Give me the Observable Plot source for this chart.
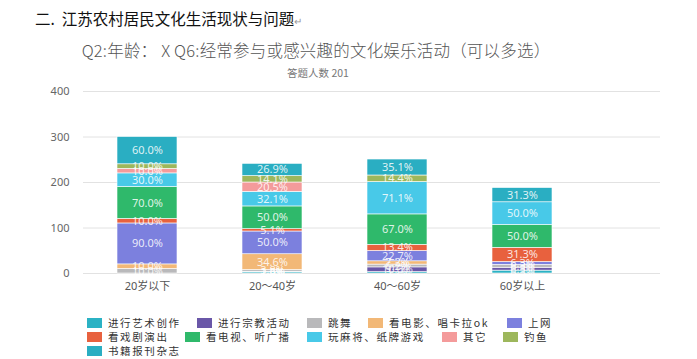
<!DOCTYPE html>
<html>
<head>
<meta charset="utf-8">
<script src="https://cdn.jsdelivr.net/npm/d3@7"></script>
<script src="https://cdn.jsdelivr.net/npm/@observablehq/plot@0.6"></script>
<style>
  html, body { margin: 0; padding: 0; background: #fff; }
  #wrap { position: relative; width: 697px; height: 359px; overflow: hidden; font-family: "Noto Sans CJK SC", "Noto Sans", sans-serif; }
  #wrap svg { position: absolute; left: 0; top: 0; }
  .heading { position: absolute; left: 35px; top: 7px; font-size: 15.5px; color: #111; white-space: nowrap; }
  .heading .ret { font-size: 10px; color: #999; }
  .title { position: absolute; left: 0; width: 632px; top: 38px; text-align: center; font-size: 16.5px; color: #555; white-space: nowrap; font-weight: 300; letter-spacing: 0.2px; }
  .subtitle { position: absolute; left: 0; width: 636px; top: 65px; text-align: center; font-size: 10.5px; color: #777; white-space: nowrap; }
  .leg { position: absolute; display: flex; align-items: center; font-size: 10.5px; letter-spacing: 1.6px; color: #333; white-space: nowrap; }
  .leg .sw { width: 15px; height: 10px; margin-right: 6px; }
</style>
</head>
<body>
<div id="wrap"></div>
<script>
const categories = ["20岁以下", "20～40岁", "40～60岁", "60岁以上"];
const seriesNames = ["进行艺术创作", "进行宗教活动", "跳舞", "看电影、唱卡拉ok", "上网", "看戏剧演出", "看电视、听广播", "玩麻将、纸牌游戏", "其它", "钓鱼", "书籍报刊杂志"];
const colors = ["#2bb2c4", "#6a57a8", "#b9b9bb", "#f2b877", "#7c80de", "#e8613e", "#2fb96b", "#48c9e8", "#f49b9b", "#9db75c", "#2aaec2"];
const v_art      = [0,    2.6,  3.1,  6.3];
const v_religion = [0,    1.3,  10.3, 6.3];
const v_dance    = [10.0, 3.8,  6.2,  6.3];
const v_movie    = [10.0, 34.6, 7.2,  0];
const v_net      = [90.0, 50.0, 22.7, 6.3];
const v_opera    = [10.0, 5.1,  13.4, 31.3];
const v_tv       = [70.0, 50.0, 67.0, 50.0];
const v_mahjong  = [30.0, 32.1, 71.1, 50.0];
const v_other    = [10.0, 20.5, 0,    0];
const v_fishing  = [10.0, 14.1, 14.4, 0];
const v_books    = [60.0, 26.9, 35.1, 31.3];
const yTicks = [0, 100, 200, 300, 400];

const seriesValues = [v_art, v_religion, v_dance, v_movie, v_net, v_opera, v_tv, v_mahjong, v_other, v_fishing, v_books];
const data = [];
seriesNames.forEach((s, i) => categories.forEach((c, j) => data.push({series: s, cat: c, value: seriesValues[i][j]})));
const labeled = data.filter(d => d.value > 0);

const W = 697, H = 359;
const plot = Plot.plot({
  width: W, height: H,
  marginTop: 91, marginBottom: 86, marginLeft: 83, marginRight: 37,
  style: {fontFamily: "'Noto Sans', 'Noto Sans CJK SC', sans-serif", background: "transparent"},
  x: {domain: categories, range: [83, 586], paddingInner: 0.52, paddingOuter: 0.26, label: null},
  y: {domain: [0, 400], label: null},
  color: {domain: seriesNames, range: colors},
  marks: [
    Plot.ruleY(yTicks, {stroke: "#e2e2e2", strokeWidth: 1}),
    Plot.axisY({ticks: yTicks, tickSize: 0, tickPadding: 14, fontSize: 11, fill: "#666", label: null}),
    Plot.axisX({tickSize: 0, tickPadding: 9, fontSize: 11, fill: "#555", label: null}),
    Plot.barY(data, {x: "cat", y: "value", z: "series", fill: "series", stroke: "#fff", strokeWidth: 0.6, order: null}),
    Plot.text(labeled, Plot.stackY({x: "cat", y: "value", z: "series", order: null, text: d => d3.format(".1f")(d.value) + "%", fill: "#fff", fillOpacity: 0.85, fontSize: 11}))
  ]
});
const wrap = document.getElementById("wrap");
wrap.appendChild(plot);

const heading = document.createElement("div");
heading.className = "heading";
heading.innerHTML = "二.&nbsp;&nbsp;江苏农村居民文化生活现状与问题<span class='ret'>↵</span>";
wrap.appendChild(heading);
const title = document.createElement("div");
title.className = "title";
title.textContent = "Q2:年龄：  X Q6:经常参与或感兴趣的文化娱乐活动（可以多选）";
wrap.appendChild(title);
const sub = document.createElement("div");
sub.className = "subtitle";
sub.textContent = "答题人数 201";
wrap.appendChild(sub);

// legend layout (x offsets, rows)
const legendLayout = [
  [87, 0], [197, 0], [307, 0], [368, 0], [507, 0],
  [87, 1], [185, 1], [307, 1], [442, 1], [503, 1],
  [87, 2]
];
const rowTop = [315, 329, 343];
seriesNames.forEach((s, i) => {
  const it = document.createElement("div");
  it.className = "leg";
  it.style.left = legendLayout[i][0] + "px";
  it.style.top = rowTop[legendLayout[i][1]] + "px";
  it.innerHTML = `<span class="sw" style="background:${colors[i]}"></span><span>${s}</span>`;
  wrap.appendChild(it);
});
</script>
</body>
</html>
